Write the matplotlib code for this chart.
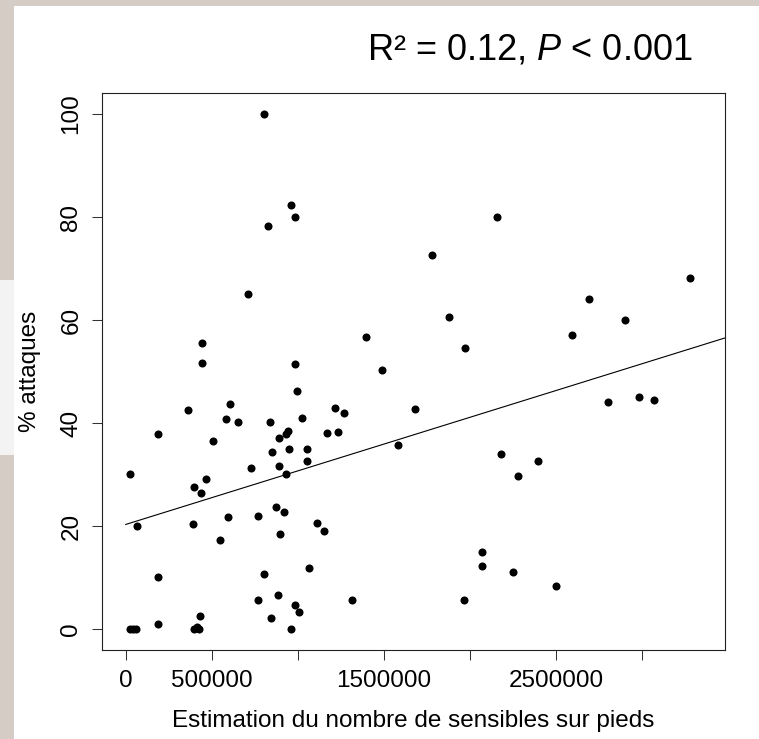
import matplotlib
matplotlib.use("Agg")
import matplotlib.pyplot as plt
from matplotlib.patches import Rectangle

plt.rcParams['font.family'] = ['Liberation Sans', 'DejaVu Sans']
plt.rcParams['mathtext.fontset'] = 'custom'
plt.rcParams['mathtext.rm'] = 'Liberation Sans'
plt.rcParams['mathtext.it'] = 'Liberation Sans:italic'

# ---- data ----
sensibles = [
    804000, 961000, 983000, 826000, 713000, 446000, 1394000, 446000, 983000, 1487000,
    994000, 608000, 364000, 1217000, 1271000, 1682000, 581000, 655000, 837000, 1027000,
    188000, 944000, 930000, 890000, 1172000, 1236000, 510000, 851000, 950000, 1054000,
    1585000, 1054000, 727000, 890000, 930000, 25000, 469000, 399000, 438000, 876000,
    922000, 595000, 767000, 391000, 66000, 1112000, 1153000, 897000, 550000, 1066000,
    188000, 804000, 767000, 884000, 1316000, 983000, 1008000, 430000, 843000, 188000,
    961000, 25000, 43000, 60000, 399000, 413000, 424000, 2159000, 1779000, 3281000,
    2690000, 1878000, 2901000, 2593000, 1971000, 2802000, 2984000, 3070000, 2180000, 2397000,
    2277000, 2068000, 2068000, 2252000, 2500000, 1963000,
]
attaques = [
    100.0, 82.4, 80.0, 78.3, 65.0, 55.6, 56.7, 51.6, 51.4, 50.2,
    46.2, 43.6, 42.5, 42.9, 42.0, 42.7, 40.7, 40.1, 40.1, 40.9,
    37.9, 38.5, 37.9, 37.0, 38.1, 38.3, 36.6, 34.4, 35.0, 35.0,
    35.7, 32.6, 31.3, 31.7, 30.0, 30.0, 29.1, 27.6, 26.5, 23.7,
    22.8, 21.7, 22.0, 20.4, 20.0, 20.6, 19.0, 18.5, 17.3, 11.9,
    10.1, 10.6, 5.6, 6.6, 5.6, 4.7, 3.3, 2.5, 2.1, 0.9,
    0.0, 0.0, 0.0, 0.0, 0.0, 0.4, 0.0, 80.0, 72.7, 68.1,
    64.1, 60.6, 60.0, 57.1, 54.5, 44.0, 45.1, 44.4, 33.9, 32.6,
    29.8, 14.9, 12.3, 11.0, 8.4, 5.6,
]
fit_intercept = 20.3
fit_slope = 10.4e-6
fit_x_range = [0, 4000000]

x_ticks = [0, 500000, 1000000, 1500000, 2000000, 2500000, 3000000]
x_ticklabels = ['0', '500000', '', '1500000', '', '2500000', '']
y_ticks = [0, 20, 40, 60, 80, 100]
y_ticklabels = ['0', '20', '40', '60', '80', '100']

title_text = r'R² = 0.12, $\mathit{P}$ < 0.001'
x_label = 'Estimation du nombre de sensibles sur pieds'
y_label = '% attaques'

# ---- figure ----
W, H = 759, 739
fig = plt.figure(figsize=(W / 100, H / 100), dpi=100)
fig.patch.set_facecolor('white')

taupe = '#d6ccc6'
fig.patches.append(Rectangle((0, 1 - 6 / H), 1, 6 / H, transform=fig.transFigure,
                             facecolor=taupe, edgecolor='none', zorder=0))
fig.patches.append(Rectangle((0, 0), 14 / W, 1, transform=fig.transFigure,
                             facecolor=taupe, edgecolor='none', zorder=0))
fig.patches.append(Rectangle((0, 1 - 455 / H), 14 / W, (455 - 280) / H, transform=fig.transFigure,
                             facecolor='#f3f3f3', edgecolor='none', zorder=0))

left, right, top, bottom = 102, 725, 93, 650
ax = fig.add_axes([left / W, 1 - bottom / H, (right - left) / W, (bottom - top) / H])

ax.scatter(sensibles, attaques, s=5.8 ** 2, color='black', linewidths=0, zorder=3)
fit_y = [fit_intercept + fit_slope * xv for xv in fit_x_range]
ax.plot(fit_x_range, fit_y, color='black', lw=0.8, zorder=2)

ax.set_xlim(-137800, 3482600)
ax.set_ylim(-4.08, 104.08)

ax.set_xticks(x_ticks)
ax.set_xticklabels(x_ticklabels)
ax.set_yticks(y_ticks)
ax.set_yticklabels(y_ticklabels, rotation=90, va='center')

fs = 17.5
ax.tick_params(axis='both', direction='out', length=7.2, width=0.75, color='#333333',
               labelsize=fs, pad=7)
for sp in ax.spines.values():
    sp.set_linewidth(0.8)
    sp.set_color('#222222')

ax.set_xlabel(x_label, fontsize=fs, labelpad=13)
ax.set_ylabel(y_label, fontsize=fs, labelpad=14)

fig.text(693 / W, 1 - 59 / H, title_text, fontsize=26, ha='right', va='baseline')

fig.savefig('out.png', dpi=100)
